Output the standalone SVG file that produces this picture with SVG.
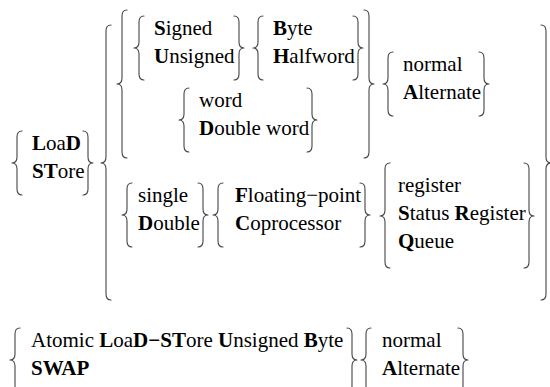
<svg xmlns="http://www.w3.org/2000/svg" width="550" height="387" viewBox="0 0 550 387">
<style>
.b{fill:none;stroke:#444;stroke-width:1.1;stroke-linecap:round;stroke-linejoin:round}
text{font-family:"Liberation Serif","Times New Roman",serif;font-size:21px;fill:#000}
.k{font-weight:bold}
</style>
<rect width="550" height="387" fill="#fff"/>
<g id="loadstore">
<path class="b" d="M22 131 C18.5 131 17 133 17 137 L17 157 C17 161 15 163 12 163 C15 163 17 165 17 169 L17 189 C17 193 18.5 195 22 195"/>
<text x="32" y="150"><tspan class="k">L</tspan>oa<tspan class="k">D</tspan></text>
<text x="32" y="178"><tspan class="k">ST</tspan>ore</text>
<path class="b" d="M83 131 C86.5 131 88 133 88 137 L88 157 C88 161 90 163 93 163 C90 163 88 165 88 169 L88 189 C88 193 86.5 195 83 195"/>
</g>
<g id="connectors">
<path class="b" d="M111 25 C107.5 25 106 27 106 31 L106 157 C106 161 104 163 101 163 C104 163 106 165 106 169 L106 294 C106 298 107.5 300 111 300"/>
<path class="b" d="M541 25 C544.5 25 546 27 546 31 L546 157 C546 161 548 163 551 163 C548 163 546 165 546 169 L546 294 C546 298 544.5 300 541 300"/>
<path class="b" d="M127 10 C123.5 10 122 12 122 16 L122 78 C122 82 120 84 117 84 C120 84 122 86 122 90 L122 152 C122 156 123.5 158 127 158"/>
<path class="b" d="M364 10 C367.5 10 369 12 369 16 L369 78 C369 82 371 84 374 84 C371 84 369 86 369 90 L369 152 C369 156 367.5 158 364 158"/>
</g>
<g id="signed">
<path class="b" d="M144 16 C140.5 16 139 18 139 22 L139 42 C139 46 137 48 134 48 C137 48 139 50 139 54 L139 74 C139 78 140.5 80 144 80"/>
<text x="154" y="35"><tspan class="k">S</tspan>igned</text>
<text x="154" y="63"><tspan class="k">U</tspan>nsigned</text>
<path class="b" d="M234 16 C237.5 16 239 18 239 22 L239 42 C239 46 241 48 244 48 C241 48 239 50 239 54 L239 74 C239 78 237.5 80 234 80"/>
</g>
<g id="byte">
<path class="b" d="M263 16 C259.5 16 258 18 258 22 L258 42 C258 46 256 48 253 48 C256 48 258 50 258 54 L258 74 C258 78 259.5 80 263 80"/>
<text x="273" y="35"><tspan class="k">B</tspan>yte</text>
<text x="273" y="63"><tspan class="k">H</tspan>alfword</text>
<path class="b" d="M353 16 C356.5 16 358 18 358 22 L358 42 C358 46 360 48 363 48 C360 48 358 50 358 54 L358 74 C358 78 356.5 80 353 80"/>
</g>
<g id="word">
<path class="b" d="M189 88 C185.5 88 184 90 184 94 L184 114 C184 118 182 120 179 120 C182 120 184 122 184 126 L184 146 C184 150 185.5 152 189 152"/>
<text x="199" y="107">word</text>
<text x="199" y="135"><tspan class="k">D</tspan>ouble word</text>
<path class="b" d="M307 88 C310.5 88 312 90 312 94 L312 114 C312 118 314 120 317 120 C314 120 312 122 312 126 L312 146 C312 150 310.5 152 307 152"/>
</g>
<g id="mode1">
<path class="b" d="M393 52 C389.5 52 388 54 388 58 L388 78 C388 82 386 84 383 84 C386 84 388 86 388 90 L388 110 C388 114 389.5 116 393 116"/>
<text x="403" y="71">normal</text>
<text x="403" y="99"><tspan class="k">A</tspan>lternate</text>
<path class="b" d="M479 52 C482.5 52 484 54 484 58 L484 78 C484 82 486 84 489 84 C486 84 484 86 484 90 L484 110 C484 114 482.5 116 479 116"/>
</g>
<g id="single">
<path class="b" d="M132 183 C128.5 183 127 185 127 189 L127 209 C127 213 125 215 122 215 C125 215 127 217 127 221 L127 241 C127 245 128.5 247 132 247"/>
<text x="138" y="202">single</text>
<text x="138" y="230"><tspan class="k">D</tspan>ouble</text>
<path class="b" d="M198 183 C201.5 183 203 185 203 189 L203 209 C203 213 205 215 208 215 C205 215 203 217 203 221 L203 241 C203 245 201.5 247 198 247"/>
</g>
<g id="floating">
<path class="b" d="M223 183 C219.5 183 218 185 218 189 L218 209 C218 213 216 215 213 215 C216 215 218 217 218 221 L218 241 C218 245 219.5 247 223 247"/>
<text x="235" y="202"><tspan class="k">F</tspan>loating−point</text>
<text x="235" y="230"><tspan class="k">C</tspan>oprocessor</text>
<path class="b" d="M360 183 C363.5 183 365 185 365 189 L365 209 C365 213 367 215 370 215 C367 215 365 217 365 221 L365 241 C365 245 363.5 247 360 247"/>
</g>
<g id="register">
<path class="b" d="M390 163 C386.5 163 385 165 385 169 L385 210 C385 214 383 216 380 216 C383 216 385 218 385 222 L385 262 C385 266 386.5 268 390 268"/>
<text x="398" y="192">register</text>
<text x="398" y="220"><tspan class="k">S</tspan>tatus <tspan class="k">R</tspan>egister</text>
<text x="398" y="248"><tspan class="k">Q</tspan>ueue</text>
<path class="b" d="M524 163 C527.5 163 529 165 529 169 L529 210 C529 214 531 216 534 216 C531 216 529 218 529 222 L529 262 C529 266 527.5 268 524 268"/>
</g>
<g id="atomic">
<path class="b" d="M20 328 C16.5 328 15 330 15 334 L15 354 C15 358 13 360 10 360 C13 360 15 362 15 366 L15 386 C15 390 16.5 392 20 392"/>
<text x="31" y="347">Atomic <tspan class="k">L</tspan>oa<tspan class="k">D−ST</tspan>ore <tspan class="k">U</tspan>nsigned <tspan class="k">B</tspan>yte</text>
<text x="31" y="375" class="k">SWAP</text>
<path class="b" d="M347 328 C350.5 328 352 330 352 334 L352 354 C352 358 354 360 357 360 C354 360 352 362 352 366 L352 386 C352 390 350.5 392 347 392"/>
</g>
<g id="mode2">
<path class="b" d="M371 328 C367.5 328 366 330 366 334 L366 354 C366 358 364 360 361 360 C364 360 366 362 366 366 L366 386 C366 390 367.5 392 371 392"/>
<text x="382" y="347">normal</text>
<text x="382" y="375"><tspan class="k">A</tspan>lternate</text>
<path class="b" d="M458 328 C461.5 328 463 330 463 334 L463 354 C463 358 465 360 468 360 C465 360 463 362 463 366 L463 386 C463 390 461.5 392 458 392"/>
</g>
</svg>
